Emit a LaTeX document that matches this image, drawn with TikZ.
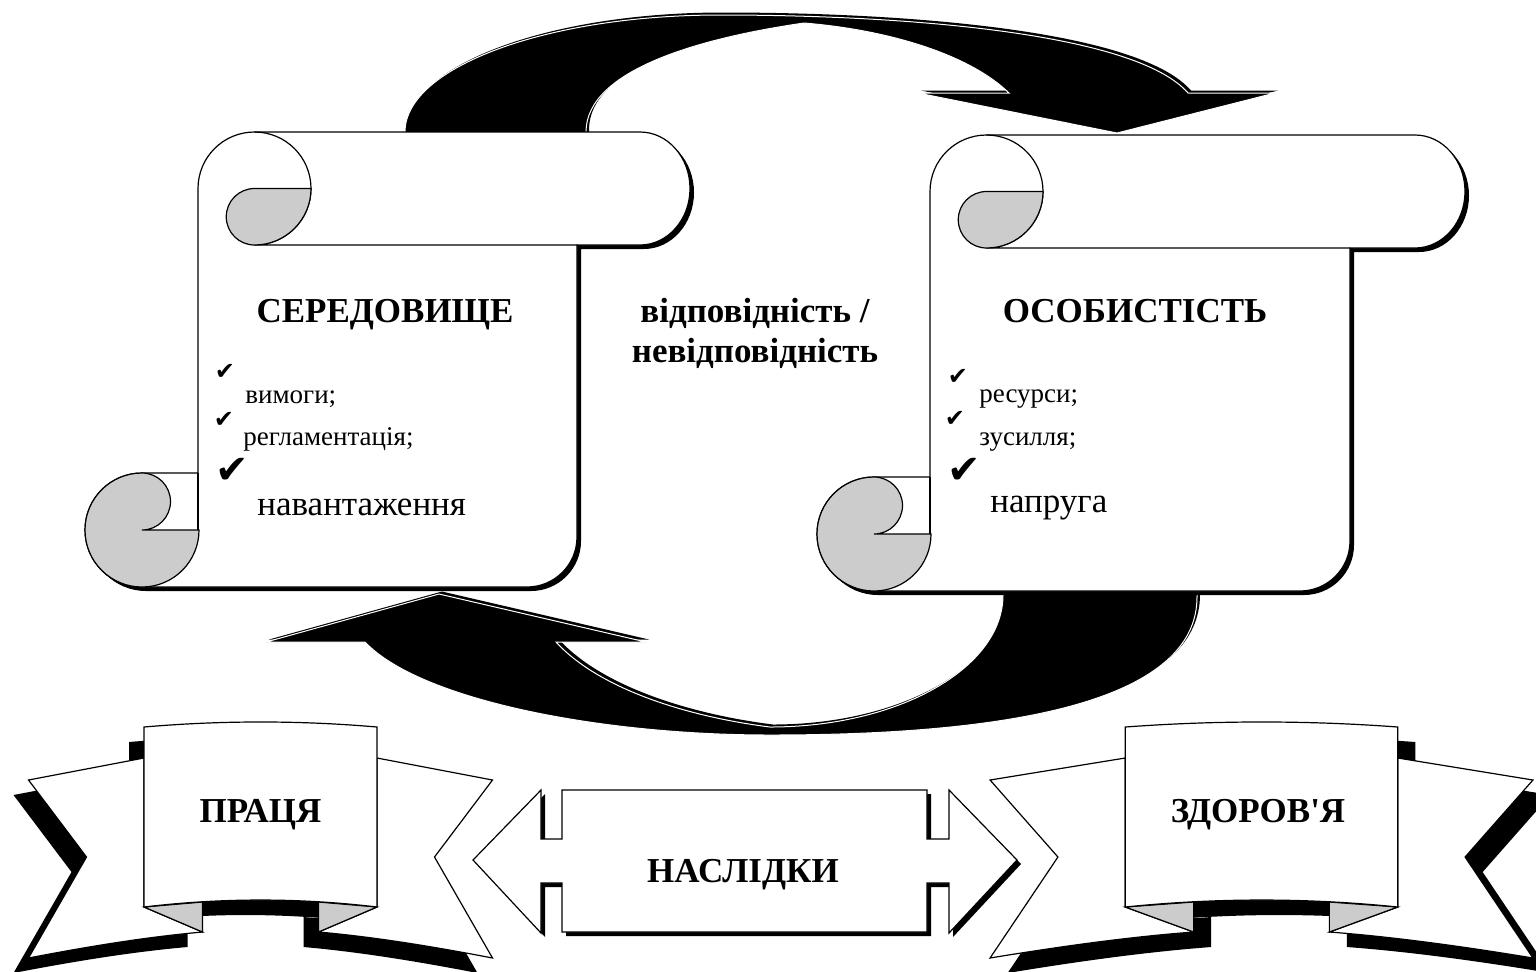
\documentclass[tikz,border=0pt]{standalone}
\usepackage{fontspec}
\setmainfont{Liberation Serif}
\newfontfamily\tickfont{DejaVu Sans}

\tikzset{
  outline/.style={draw=black, line width=0.6pt},
  paper/.style={outline, fill=white},
  curl/.style={outline, fill=black!20},
  shade/.style={fill=black},
  bigarrow/.style={fill=black, draw=white, line width=0.5pt},
  title/.style={font=\bfseries\fontsize{17.5}{21}\selectfont, anchor=base, inner sep=0pt},
  item/.style={font=\fontsize{13.5}{16}\selectfont, anchor=base west, inner sep=0pt},
  bigitem/.style={font=\fontsize{17.5}{21}\selectfont, anchor=base west, inner sep=0pt},
  tick/.style={font=\tickfont\fontsize{12}{14}\selectfont, inner sep=0pt},
  bigtick/.style={font=\tickfont\fontsize{20}{22}\selectfont, inner sep=0pt}
}

% scroll: #1 left x, #2 right x, #3 top y, #4 bottom y, #5 end of the top roll
\newcommand{\scroll}[5]{
  \fill[shade, shift={(4,4)}] ({#1+56.5},#3) -- (#5,#3)
    arc[start angle=270, end angle=450, x radius=50, y radius=56.5]
    -- (#2,{#3+113}) -- (#2,{#4-50}) arc[start angle=0, end angle=90, radius=50]
    -- ({#1-56},#4) arc[start angle=90, end angle=270, radius=57]
    -- (#1,{#4-114}) -- (#1,{#3+56.5}) arc[start angle=180, end angle=270, radius=56.5] -- cycle;
  \filldraw[paper] ({#1+56.5},#3) -- (#5,#3)
    arc[start angle=270, end angle=450, x radius=50, y radius=56.5]
    -- (#2,{#3+113}) -- (#2,{#4-50}) arc[start angle=0, end angle=90, radius=50]
    -- ({#1-56},#4) arc[start angle=90, end angle=270, radius=57]
    -- (#1,{#4-114}) -- (#1,{#3+56.5}) arc[start angle=180, end angle=270, radius=56.5] -- cycle;
  \draw[outline] ({#1+56.5},#3) arc[start angle=270, end angle=450, radius=56.5] -- (#2,{#3+113});
  \filldraw[curl] ({#1+56.5},{#3+56.5}) -- ({#1+113},{#3+56.5})
    arc[start angle=0, end angle=90, radius=56.5] arc[start angle=90, end angle=270, radius=28.25] -- cycle;
  \filldraw[curl] ({#1-56},{#4-114}) arc[start angle=270, end angle=0, radius=57]
    -- ({#1-56},{#4-57}) arc[start angle=90, end angle=-90, radius=28.5] -- cycle;
  \draw[outline] (#1,{#4-114}) -- (#1,{#4-57});
}

% ribbon: #1 centre x, #2 x scale
\newcommand{\ribbon}[2]{
  \begin{scope}[shift={(#1,0)}, xscale=#2]
    \foreach \s in {-1,1} {
      \fill[shade, shift={(-15,15)}] ({116.5*\s},758) -- ({232*\s},780) -- ({174*\s},857) -- ({232*\s},958)
        .. controls ({175*\s},947) and ({115*\s},937) .. ({58*\s},932) -- ({58*\s},902) -- ({116.5*\s},907) -- cycle;
    }
    \fill[shade, shift={(-15,15)}] (-116.5,727) .. controls (-38.8,720.3) and (38.8,720.3) .. (116.5,727)
      -- (116.5,907) .. controls (38.8,897.7) and (-38.8,897.7) .. (-116.5,907) -- cycle;
    \foreach \s in {-1,1} {
      \filldraw[paper] ({116.5*\s},758) -- ({232*\s},780) -- ({174*\s},857) -- ({232*\s},958)
        .. controls ({175*\s},947) and ({115*\s},937) .. ({58*\s},932) -- ({116.5*\s},907) -- cycle;
      \filldraw[curl] ({116.5*\s},907) -- ({58*\s},932) -- ({58*\s},902) -- cycle;
    }
    \filldraw[paper] (-116.5,727) .. controls (-38.8,720.3) and (38.8,720.3) .. (116.5,727)
      -- (116.5,907) .. controls (38.8,897.7) and (-38.8,897.7) .. (-116.5,907) -- cycle;
  \end{scope}
}

\def\toparrow{(405,140) -- (405,132) arc[start angle=180, end angle=270, x radius=315, y radius=117]
  .. controls (900,15) and (1135,32) .. (1188,93) -- (1275,93) -- (1117,133) -- (918,93) -- (1009,93)
  .. controls (970,55) and (890,30) .. (804,23) .. controls (700,38) and (586,70) .. (586,132)
  -- (586,140) -- cycle}
\def\bottomarrow{(1197,590) -- (1197,597) .. controls (1197,690) and (1050,735) .. (770,735)
  .. controls (600,735) and (420,700) .. (365,642) -- (266,642) -- (439,594) -- (646,642) -- (556,642)
  .. controls (600,690) and (690,717) .. (770,727) arc[start angle=90, end angle=0, x radius=233, y radius=132]
  -- (1003,590) -- cycle}
\def\dblarrow{(473,860) -- (541,790) -- (541,839) -- (562,839) -- (562,790) -- (927,790) -- (927,839)
  -- (949,839) -- (949,790) -- (1017,860) -- (949,933) -- (949,883) -- (927,883) -- (927,932)
  -- (562,932) -- (562,883) -- (541,883) -- (541,933) -- cycle}

\begin{document}
\begin{tikzpicture}[x=0.5pt, y=-0.5pt]
  \useasboundingbox (0,0) rectangle (1536,971);

  % the two curved arrows
  \fill[shade, shift={(3,-2.5)}] \toparrow;
  \filldraw[bigarrow] \toparrow;
  \fill[shade, shift={(3,-2.5)}] \bottomarrow;
  \filldraw[bigarrow] \bottomarrow;

  % scrolls
  \scroll{198}{577}{132}{587}{640}
  \scroll{930}{1350}{135}{591}{1415}

  \node[title] (env) at (385,322) {СЕРЕДОВИЩЕ};
  \node[tick] (env1) at (225,372) {✔};
  \node[item] (demand) at (245,403) {вимоги;};
  \node[tick] (env2) at (224,420) {✔};
  \node[item] (rules) at (243,445) {регламентація;};
  \node[bigtick] (env3) at (232,471) {✔};
  \node[bigitem] (load) at (257,515) {навантаження};

  \node[title] (pers) at (1135,322) {ОСОБИСТІСТЬ};
  \node[tick] (pers1) at (958,377) {✔};
  \node[item] (res) at (979,402) {ресурси;};
  \node[tick] (pers2) at (955,419) {✔};
  \node[item] (effort) at (979,445) {зусилля;};
  \node[bigtick] (pers3) at (964,471) {✔};
  \node[bigitem] (strain) at (990,512) {напруга};

  \node[title] (fit1) at (755,322) {відповідність /};
  \node[title] (fit2) at (755,362) {невідповідність};

  % bottom row
  \ribbon{260.5}{1}
  \ribbon{1261.5}{-1.17}
  \fill[shade, shift={(4,4)}] \dblarrow;
  \filldraw[paper] \dblarrow;

  \node[title] (work) at (260.5,822) {ПРАЦЯ};
  \node[title] (health) at (1258,822) {ЗДОРОВ\textquotesingle Я};
  \node[title] (result) at (743,882) {НАСЛІДКИ};
\end{tikzpicture}
\end{document}
